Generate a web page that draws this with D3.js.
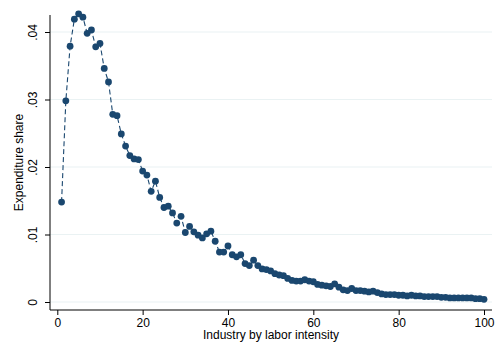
<!DOCTYPE html>
<html>
<head>
<meta charset="utf-8">
<script src="https://cdn.jsdelivr.net/npm/d3@7/dist/d3.min.js"></script>
<style>
  html, body { margin: 0; padding: 0; background: #fff; }
  svg { display: block; font-family: "Liberation Sans", Arial, sans-serif; }
</style>
</head>
<body>
<svg id="chart" width="495" height="350"></svg>
<script>
// Industries ranked by labor intensity (1 = least labor-intensive)
const industry = d3.range(1, 101);

// Expenditure share of each industry
const share = [
  0.0148, 0.0298, 0.0379, 0.0419, 0.0427, 0.0422, 0.0398, 0.0403, 0.0378, 0.0383,
  0.0346, 0.0326, 0.0278, 0.0276, 0.0249, 0.0231, 0.0217, 0.0212, 0.0211, 0.0194,
  0.0188, 0.0164, 0.0179, 0.0155, 0.0140, 0.0142, 0.0132, 0.0117, 0.0127, 0.0103,
  0.0112, 0.0104, 0.0099, 0.0095, 0.0101, 0.0105, 0.0090, 0.0074, 0.0074, 0.0083,
  0.0070, 0.0067, 0.0070, 0.0057, 0.0054, 0.0062, 0.0054, 0.0049, 0.0048, 0.0046,
  0.0042, 0.0040, 0.0039, 0.0035, 0.0032, 0.0031, 0.0031, 0.0033, 0.0031, 0.0030,
  0.0026, 0.0025, 0.0024, 0.0023, 0.0027, 0.0022, 0.0018, 0.0017, 0.0020, 0.0017,
  0.0017, 0.0016, 0.0015, 0.0016, 0.0014, 0.0012, 0.0011, 0.0011, 0.0011, 0.0010,
  0.0010, 0.0009, 0.0010, 0.0009, 0.0009, 0.0008, 0.0008, 0.0008, 0.0008, 0.0007,
  0.0007, 0.0006, 0.0006, 0.0006, 0.0006, 0.0006, 0.0006, 0.0005, 0.0005, 0.0004
];

const xTicks = [0, 20, 40, 60, 80, 100];
const yTicks = [0, 0.01, 0.02, 0.03, 0.04];
const yTickLabels = ["0", ".01", ".02", ".03", ".04"];

const xTitle = "Industry by labor intensity";
const yTitle = "Expenditure share";

const navy = "#1a476f";
const gridColor = "#eaf2f3";

// plot region edges
const plotLeft = 50, plotRight = 492, plotTop = 15, plotBottom = 310;

const x = d3.scaleLinear().domain([0, 100]).range([57.3, 484]);
const y = d3.scaleLinear().domain([0, 0.04]).range([302, 32]);

const svg = d3.select("#chart");

// horizontal grid lines
svg.append("g")
  .selectAll("line")
  .data(yTicks)
  .join("line")
  .attr("x1", plotLeft).attr("x2", plotRight)
  .attr("y1", d => y(d)).attr("y2", d => y(d))
  .attr("stroke", gridColor)
  .attr("stroke-width", 1.2);

// connecting dashed line
const pts = industry.map((d, i) => [d, share[i]]);
svg.append("path")
  .datum(pts)
  .attr("fill", "none")
  .attr("stroke", navy)
  .attr("stroke-width", 1.1)
  .attr("stroke-dasharray", "5,3")
  .attr("d", d3.line().x(d => x(d[0])).y(d => y(d[1])));

// markers
svg.append("g")
  .selectAll("circle")
  .data(pts)
  .join("circle")
  .attr("cx", d => x(d[0]))
  .attr("cy", d => y(d[1]))
  .attr("r", 3.4)
  .attr("fill", navy);

// x axis
const xAxis = d3.axisBottom(x).tickValues(xTicks).tickSize(5).tickPadding(3).tickFormat(d3.format("d"));
const gx = svg.append("g").attr("transform", `translate(0,${plotBottom})`).call(xAxis);
gx.select(".domain").remove();
gx.append("line").attr("x1", plotLeft).attr("x2", plotRight).attr("y1", 0).attr("y2", 0)
  .attr("stroke", "#000").attr("stroke-width", 1);
gx.selectAll(".tick line").attr("stroke", "#000");
gx.selectAll(".tick text").attr("fill", "#000").attr("font-size", 12)
  .attr("font-family", "Liberation Sans, Arial, sans-serif");

// y axis
const yAxis = d3.axisLeft(y).tickValues(yTicks).tickSize(5).tickFormat((d, i) => yTickLabels[i]);
const gy = svg.append("g").attr("transform", `translate(${plotLeft},0)`).call(yAxis);
gy.select(".domain").remove();
gy.append("line").attr("x1", 0).attr("x2", 0).attr("y1", plotTop).attr("y2", plotBottom)
  .attr("stroke", "#000").attr("stroke-width", 1);
gy.selectAll(".tick line").attr("stroke", "#000");
gy.selectAll(".tick text")
  .attr("fill", "#000")
  .attr("font-size", 12)
  .attr("font-family", "Liberation Sans, Arial, sans-serif")
  .attr("x", null).attr("dy", null)
  .attr("text-anchor", "middle")
  .attr("transform", "translate(-13,0) rotate(-90)")
  .attr("y", 0);

// axis titles
svg.append("text")
  .attr("x", (plotLeft + plotRight) / 2).attr("y", 339)
  .attr("text-anchor", "middle")
  .attr("font-size", 12)
  .attr("fill", "#000")
  .text(xTitle);

svg.append("text")
  .attr("transform", `translate(23,${(plotTop + plotBottom) / 2}) rotate(-90)`)
  .attr("text-anchor", "middle")
  .attr("font-size", 12)
  .attr("fill", "#000")
  .text(yTitle);
</script>
</body>
</html>
